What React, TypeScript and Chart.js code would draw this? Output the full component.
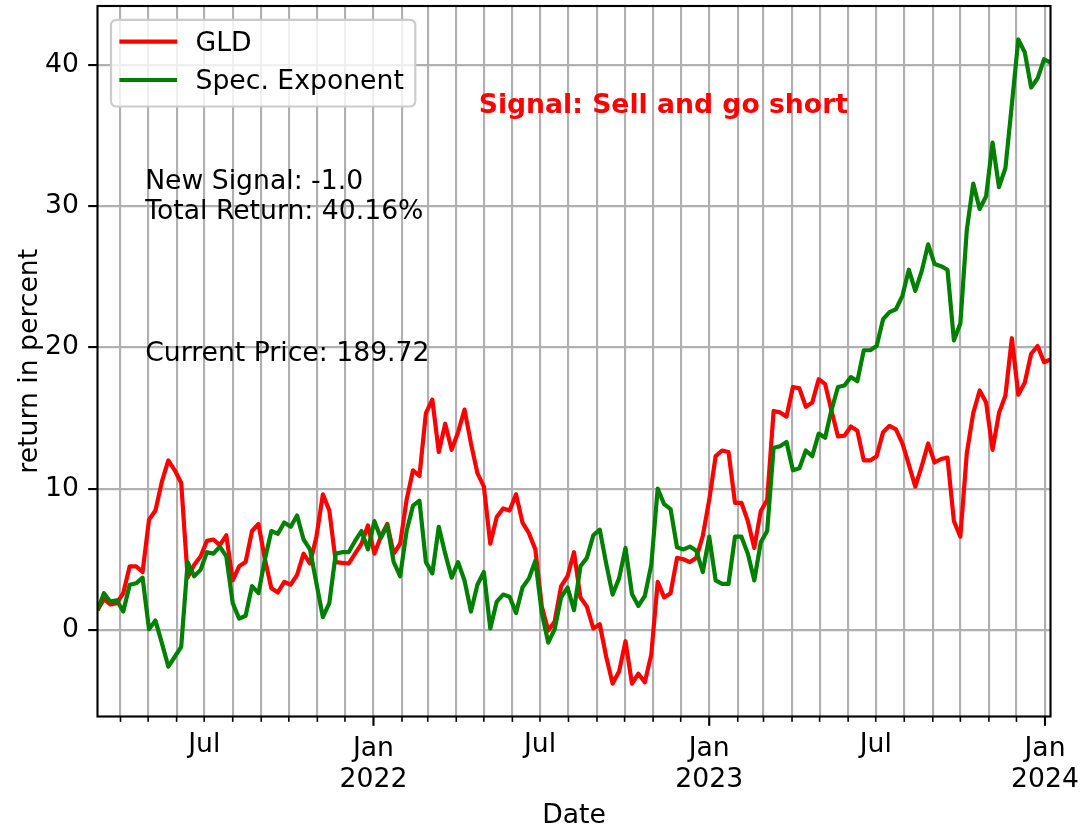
import React, { useEffect, useRef } from "react";
import { Chart, registerables } from "chart.js";

Chart.register(...registerables);

const DATES: string[] = [
  "2021-03-07","2021-03-14","2021-03-21","2021-03-28",
  "2021-04-04","2021-04-11","2021-04-18","2021-04-25",
  "2021-05-02","2021-05-09","2021-05-16","2021-05-23","2021-05-30",
  "2021-06-06","2021-06-13","2021-06-20","2021-06-27",
  "2021-07-04","2021-07-11","2021-07-18","2021-07-25",
  "2021-08-01","2021-08-08","2021-08-15","2021-08-22","2021-08-29",
  "2021-09-05","2021-09-12","2021-09-19","2021-09-26",
  "2021-10-03","2021-10-10","2021-10-17","2021-10-24","2021-10-31",
  "2021-11-07","2021-11-14","2021-11-21","2021-11-28",
  "2021-12-05","2021-12-12","2021-12-19","2021-12-26",
  "2022-01-02","2022-01-09","2022-01-16","2022-01-23","2022-01-30",
  "2022-02-06","2022-02-13","2022-02-20","2022-02-27",
  "2022-03-06","2022-03-13","2022-03-20","2022-03-27",
  "2022-04-03","2022-04-10","2022-04-17","2022-04-24",
  "2022-05-01","2022-05-08","2022-05-15","2022-05-22","2022-05-29",
  "2022-06-05","2022-06-12","2022-06-19","2022-06-26",
  "2022-07-03","2022-07-10","2022-07-17","2022-07-24","2022-07-31",
  "2022-08-07","2022-08-14","2022-08-21","2022-08-28",
  "2022-09-04","2022-09-11","2022-09-18","2022-09-25",
  "2022-10-02","2022-10-09","2022-10-16","2022-10-23","2022-10-30",
  "2022-11-06","2022-11-13","2022-11-20","2022-11-27",
  "2022-12-04","2022-12-11","2022-12-18","2022-12-25",
  "2023-01-01","2023-01-08","2023-01-15","2023-01-22","2023-01-29",
  "2023-02-05","2023-02-12","2023-02-19","2023-02-26",
  "2023-03-05","2023-03-12","2023-03-19","2023-03-26",
  "2023-04-02","2023-04-09","2023-04-16","2023-04-23","2023-04-30",
  "2023-05-07","2023-05-14","2023-05-21","2023-05-28",
  "2023-06-04","2023-06-11","2023-06-18","2023-06-25",
  "2023-07-02","2023-07-09","2023-07-16","2023-07-23","2023-07-30",
  "2023-08-06","2023-08-13","2023-08-20","2023-08-27",
  "2023-09-03","2023-09-10","2023-09-17","2023-09-24",
  "2023-10-01","2023-10-08","2023-10-15","2023-10-22","2023-10-29",
  "2023-11-05","2023-11-12","2023-11-19","2023-11-26",
  "2023-12-03","2023-12-10","2023-12-17","2023-12-24","2023-12-31",
  "2024-01-07",
];

const GLD: number[] = [
  1.4, 2.2, 1.8, 1.9, 2.6, 4.5, 4.5, 4.1, 7.8, 8.45,
  10.5, 12.0, 11.3, 10.4, 3.7, 4.6, 5.2, 6.3, 6.4, 6.0,
  6.7, 3.5, 4.5, 4.8, 7.0, 7.5, 5.0, 2.95, 2.65, 3.4,
  3.2, 3.9, 5.4, 4.7, 6.6, 9.6, 8.45, 4.8, 4.75, 4.7,
  5.4, 6.1, 7.4, 5.4, 6.6, 7.5, 5.4, 6.1, 9.2, 11.3,
  10.9, 15.35, 16.3, 12.6, 14.6, 12.75, 14.0, 15.6, 13.2, 11.1,
  10.15, 6.1, 8.0, 8.6, 8.45, 9.6, 7.6, 6.85, 5.7, 1.65,
  -0.05, 0.6, 3.1, 3.8, 5.5, 2.3, 1.65, 0.1, 0.4, -1.9,
  -3.8, -2.95, -0.8, -3.8, -3.1, -3.7, -1.75, 3.4, 2.3, 2.6,
  5.1, 5.0, 4.8, 5.1, 6.65, 9.2, 12.3, 12.7, 12.6, 9.0,
  9.0, 7.7, 5.8, 8.4, 9.2, 15.5, 15.4, 15.1, 17.2, 17.1,
  15.8, 16.1, 17.75, 17.4, 15.5, 13.7, 13.75, 14.4, 14.1, 12.0,
  12.0, 12.3, 14.0, 14.45, 14.2, 13.2, 11.7, 10.15, 11.6, 13.2,
  11.85, 12.1, 12.2, 7.7, 6.6, 12.5, 15.35, 16.95, 16.1, 12.75,
  15.35, 16.6, 20.65, 16.65, 17.5, 19.55, 20.1, 18.95, 19.15,
];

const SPEC: number[] = [
  1.4, 2.6, 2.0, 2.1, 1.3, 3.2, 3.3, 3.7, 0.05, 0.66,
  -0.94, -2.6, -1.9, -1.2, 4.8, 3.8, 4.25, 5.5, 5.4, 5.9,
  5.2, 1.9, 0.8, 1.0, 3.1, 2.6, 5.0, 7.0, 6.8, 7.6,
  7.3, 8.1, 6.4, 5.7, 3.3, 0.9, 1.9, 5.4, 5.5, 5.5,
  6.3, 7.0, 5.7, 7.7, 6.5, 7.4, 4.8, 3.8, 7.0, 8.8,
  9.15, 4.8, 4.0, 7.3, 5.4, 3.7, 4.8, 3.5, 1.3, 3.2,
  4.1, 0.1, 2.0, 2.5, 2.35, 1.2, 3.0, 3.65, 4.9, 1.2,
  -0.9, 0.05, 2.3, 3.0, 1.4, 4.5, 5.1, 6.7, 7.1, 4.7,
  2.5, 3.65, 5.8, 2.55, 1.7, 2.4, 4.6, 10.0, 8.9, 8.55,
  5.85, 5.7, 5.9, 5.6, 4.1, 6.6, 3.5, 3.26, 3.26, 6.6,
  6.6, 5.4, 3.5, 6.2, 7.0, 12.9, 13.0, 13.3, 11.3, 11.45,
  12.7, 12.3, 13.9, 13.6, 15.6, 17.2, 17.3, 17.9, 17.6, 19.8,
  19.8, 20.1, 22.0, 22.5, 22.7, 23.65, 25.5, 24.0, 25.4, 27.3,
  25.9, 25.75, 25.5, 20.5, 21.7, 28.3, 31.6, 29.8, 30.7, 34.5,
  31.35, 32.7, 37.2, 41.8, 40.9, 38.4, 39.05, 40.4, 40.16,
];

const SERIES_LABELS = ["GLD", "Spec. Exponent"];
const SERIES_COLORS = ["#ff0000", "#008000"];

const Y_TICKS = [0, 10, 20, 30, 40];
const Y_MIN = -6.13;
const Y_MAX = 44.17;

const X_TICK_DATES: string[] = [
  "2021-04-01","2021-05-01","2021-06-01","2021-07-01","2021-08-01","2021-09-01",
  "2021-10-01","2021-11-01","2021-12-01","2022-01-01","2022-02-01","2022-03-01",
  "2022-04-01","2022-05-01","2022-06-01","2022-07-01","2022-08-01","2022-09-01",
  "2022-10-01","2022-11-01","2022-12-01","2023-01-01","2023-02-01","2023-03-01",
  "2023-04-01","2023-05-01","2023-06-01","2023-07-01","2023-08-01","2023-09-01",
  "2023-10-01","2023-11-01","2023-12-01","2024-01-01",
];
const X_TICK_LABELS: string[] = [
  "", "", "", "Jul", "", "",
  "", "", "", "Jan\n2022", "", "",
  "", "", "", "Jul", "", "",
  "", "", "", "Jan\n2023", "", "",
  "", "", "", "Jul", "", "",
  "", "", "", "Jan\n2024",
];

const X_TITLE = "Date";
const Y_TITLE = "return in percent";
const SIGNAL_TEXT = "Signal: Sell and go short";
const INFO_LINES = ["New Signal: -1.0", "Total Return: 40.16%"];
const PRICE_TEXT = "Current Price: 189.72";

const FONT = "'DejaVu Sans', sans-serif";
const FS = 26.67;

const decorPlugin = {
  id: "mplDecor",
  afterDatasetsDraw(chart: any) {
    const { ctx, chartArea: a, scales } = chart;
    const xs = scales.x;
    const w = a.right - a.left;
    const h = a.bottom - a.top;
    ctx.save();

    // spines
    ctx.strokeStyle = "#000";
    ctx.lineWidth = 2.13;
    ctx.strokeRect(a.left, a.top, w, h);

    // x ticks and labels
    ctx.fillStyle = "#000";
    ctx.font = `${FS}px ${FONT}`;
    ctx.textAlign = "center";
    ctx.textBaseline = "alphabetic";
    X_TICK_DATES.forEach((d, i) => {
      const px = xs.getPixelForValue(Date.parse(d));
      const lab = X_TICK_LABELS[i];
      const major = lab.startsWith("Jan");
      ctx.beginPath();
      ctx.lineWidth = major ? 2.13 : 1.6;
      ctx.moveTo(px, a.bottom);
      ctx.lineTo(px, a.bottom + (major ? 9.33 : 5.33));
      ctx.stroke();
      if (lab) {
        const lines = lab.split("\n");
        if (major) {
          lines.forEach((ln, k) => ctx.fillText(ln, px, a.bottom + 39.5 + k * 31));
        } else {
          ctx.fillText(lines[0], px, a.bottom + 35.5);
        }
      }
    });

    // axis titles
    ctx.fillText(X_TITLE, (a.left + a.right) / 2, 823);
    ctx.save();
    ctx.translate(36.5, (a.top + a.bottom) / 2);
    ctx.rotate(-Math.PI / 2);
    ctx.fillText(Y_TITLE, 0, 0);
    ctx.restore();

    // annotations
    ctx.textAlign = "left";
    ctx.fillStyle = "#000";
    const ix = a.left + 0.05 * w;
    const infoBase = a.bottom - 0.7 * h;
    INFO_LINES.forEach((ln, k) => {
      ctx.fillText(ln, ix, infoBase - (INFO_LINES.length - 1 - k) * 30.5);
    });
    ctx.fillText(PRICE_TEXT, ix, a.bottom - 0.5 * h);
    ctx.font = `bold ${FS}px ${FONT}`;
    ctx.fillStyle = "#ff0000";
    ctx.fillText(SIGNAL_TEXT, a.left + 0.4 * w, a.bottom - 0.85 * h);

    // legend
    const bx = a.left + 13.5;
    const by = a.top + 13.8;
    const bw = 304.3;
    const bh = 86.7;
    const r = 5.3;
    ctx.beginPath();
    ctx.moveTo(bx + r, by);
    ctx.lineTo(bx + bw - r, by);
    ctx.arcTo(bx + bw, by, bx + bw, by + r, r);
    ctx.lineTo(bx + bw, by + bh - r);
    ctx.arcTo(bx + bw, by + bh, bx + bw - r, by + bh, r);
    ctx.lineTo(bx + r, by + bh);
    ctx.arcTo(bx, by + bh, bx, by + bh - r, r);
    ctx.lineTo(bx, by + r);
    ctx.arcTo(bx, by, bx + r, by, r);
    ctx.closePath();
    ctx.fillStyle = "rgba(255,255,255,0.8)";
    ctx.fill();
    ctx.strokeStyle = "#cccccc";
    ctx.lineWidth = 2.2;
    ctx.stroke();

    ctx.font = `${FS}px ${FONT}`;
    chart.data.datasets.forEach((ds: any, k: number) => {
      const ly = a.top + 35.7 + k * 38.3;
      ctx.beginPath();
      ctx.strokeStyle = ds.borderColor;
      ctx.lineWidth = 4.2;
      ctx.lineCap = "square";
      ctx.moveTo(bx + 10.5, ly);
      ctx.lineTo(bx + 64, ly);
      ctx.stroke();
      ctx.fillStyle = "#000";
      ctx.fillText(ds.label, bx + 84.5, ly + 9);
    });

    ctx.restore();
  },
};

export default function App() {
  const ref = useRef<HTMLCanvasElement | null>(null);

  useEffect(() => {
    const canvas = ref.current;
    if (!canvas) return;
    const xs = DATES.map((d) => Date.parse(d));
    const chart = new Chart(canvas, {
      type: "line",
      data: {
        datasets: [
          {
            label: SERIES_LABELS[0],
            data: xs.map((x, i) => ({ x, y: GLD[i] })),
            borderColor: SERIES_COLORS[0],
            backgroundColor: SERIES_COLORS[0],
            borderWidth: 4.2,
            pointRadius: 0,
            tension: 0,
            borderJoinStyle: "round",
            order: 1,
          },
          {
            label: SERIES_LABELS[1],
            data: xs.map((x, i) => ({ x, y: SPEC[i] })),
            borderColor: SERIES_COLORS[1],
            backgroundColor: SERIES_COLORS[1],
            borderWidth: 4.2,
            pointRadius: 0,
            tension: 0,
            borderJoinStyle: "round",
            order: 0,
          },
        ],
      },
      options: {
        animation: false,
        responsive: false,
        devicePixelRatio: 1,
        layout: { padding: { left: 0, top: 6, right: 31.5, bottom: 0 } },
        plugins: {
          legend: { display: false },
          tooltip: { enabled: false },
          title: { display: false },
        },
        scales: {
          x: {
            type: "linear",
            min: xs[0],
            max: xs[xs.length - 1],
            afterBuildTicks: (s: any) => {
              s.ticks = X_TICK_DATES.map((d) => ({ value: Date.parse(d) }));
            },
            afterFit: (s: any) => {
              s.height = 112.5;
              s.paddingLeft = 0;
              s.paddingRight = 0;
            },
            grid: { color: "#b0b0b0", lineWidth: 2.13, drawTicks: false },
            border: { display: false },
            ticks: { display: false, autoSkip: false },
          },
          y: {
            type: "linear",
            min: Y_MIN,
            max: Y_MAX,
            afterBuildTicks: (s: any) => {
              s.ticks = Y_TICKS.map((v) => ({ value: v }));
            },
            afterFit: (s: any) => {
              s.width = 97.5;
              s.paddingTop = 0;
              s.paddingBottom = 0;
            },
            grid: {
              color: "#b0b0b0",
              lineWidth: 2.13,
              drawTicks: true,
              tickLength: 9.33,
              tickColor: "#000",
              tickWidth: 2.13,
            },
            border: { display: false },
            ticks: {
              color: "#000",
              font: { family: FONT, size: FS },
              padding: 9.33,
              autoSkip: false,
              callback: (v: any) => String(v),
            },
          },
        },
      },
      plugins: [decorPlugin],
    } as any);
    return () => chart.destroy();
  }, []);

  return (
    <div style={{ position: "absolute", left: 0, top: 0, width: 1082, height: 829, background: "#fff" }}>
      <canvas ref={ref} width={1082} height={829} style={{ display: "block", width: 1082, height: 829 }} />
    </div>
  );
}
